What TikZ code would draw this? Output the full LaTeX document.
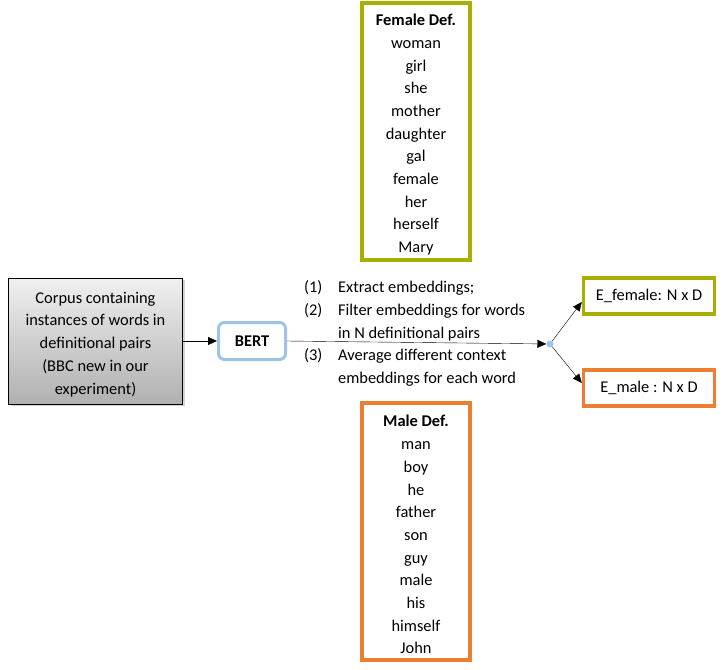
\documentclass[tikz,border=0pt]{standalone}
\usepackage{fontspec}
\setmainfont{Carlito}
\usepackage{xcolor}
\usepackage{tikz}
\usetikzlibrary{arrows.meta,shadows}

\definecolor{defgreen}{RGB}{165,176,0}
\definecolor{deforange}{RGB}{237,125,49}
\definecolor{bertblue}{RGB}{157,195,230}

\newcommand{\topstrut}{\rule{0pt}{18pt}}

\begin{document}
\begin{tikzpicture}[x=1pt, y=-1pt,
    every node/.style={font=\fontsize{16.4}{22.7}\selectfont},
    defbox/.style={draw, line width=4pt, minimum width=108pt, minimum height=257pt, align=center, inner sep=0pt},
    outbox/.style={draw, line width=3.5pt, minimum width=131pt, minimum height=36pt, inner sep=0pt},
    arr/.style={-{Triangle[length=9pt,width=8pt]}, thin}]
    \useasboundingbox (0,0) rectangle (724,670);
    % Corpus box
    \node[draw, line width=1pt, top color=gray!12, bottom color=gray!62,
          drop shadow={shadow xshift=2pt, shadow yshift=-2pt, opacity=0.35},
          minimum width=174pt, minimum height=126pt, align=center, inner sep=0pt]
          (corpus) at (95.5,341) {\topstrut Corpus containing\\instances of words in\\definitional pairs\\(BBC new in our\\experiment)};
    % BERT
    \node[draw=bertblue, line width=3pt, rounded corners=6pt, minimum width=67pt, minimum height=37pt,
          inner sep=0pt, font=\fontsize{16.4}{22.7}\selectfont\bfseries] (bert) at (252,341) {BERT};
    % Definitional words
    \node[defbox, draw=defgreen] (female) at (416,131.5)
        {\topstrut\textbf{Female Def.}\\woman\\girl\\she\\mother\\daughter\\gal\\female\\her\\herself\\Mary};
    \node[defbox, draw=deforange] (male) at (416,531.5)
        {\topstrut\textbf{Male Def.}\\man\\boy\\he\\father\\son\\guy\\male\\his\\himself\\John};
    % Steps
    \node[anchor=west, inner sep=0pt] (steps) at (304,333.5)
        {\begin{tabular}{@{}p{34pt}@{}l@{}}
        (1) & Extract embeddings;\\
        (2) & Filter embeddings for words\\
            & in N definitional pairs\\
        (3) & Average different context\\
            & embeddings for each word
        \end{tabular}};
    % Outputs
    \node[outbox, draw=defgreen] (efemale) at (649,296) {E\_female: N x D};
    \node[outbox, draw=deforange] (emale) at (649,388) {E\_male : N x D};
    \node[circle, fill=bertblue, inner sep=0pt, minimum size=7pt] (split) at (550,344) {};
    % Arrows
    \draw[arr] (corpus.east) -- (bert.west);
    \draw[arr] (bert.east) -- (split);
    \draw[arr] (split) -- ([yshift=-6pt]efemale.west);
    \draw[arr] (split) -- ([yshift=5pt]emale.west);
\end{tikzpicture}
\end{document}
